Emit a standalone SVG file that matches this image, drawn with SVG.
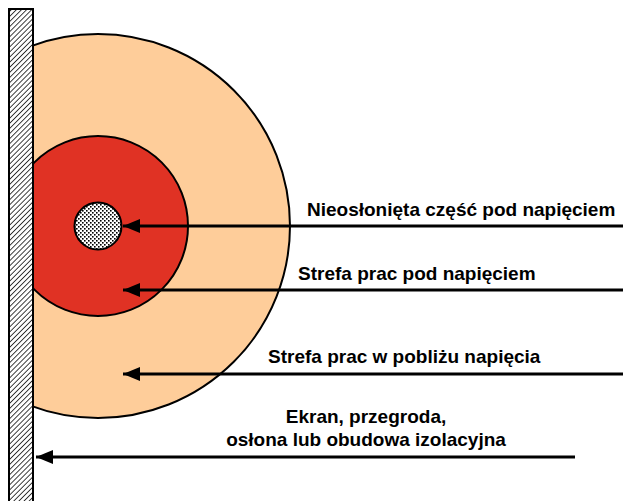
<svg xmlns="http://www.w3.org/2000/svg" width="623" height="501" viewBox="0 0 623 501">
<style>
text{font-family:"Liberation Sans",Arial,sans-serif;font-weight:bold;font-size:19px;fill:#000}
.ln{stroke:#000;stroke-width:3;fill:none}
.zone{stroke:#000;stroke-width:2}
</style>
<defs>
<clipPath id="rightOfWall"><rect x="30" y="0" width="600" height="501"/></clipPath>
<pattern id="hatch" patternUnits="userSpaceOnUse" width="3.6" height="3.6" patternTransform="rotate(45)">
<rect width="3.6" height="3.6" fill="#fff"/>
<line x1="0" y1="0" x2="0" y2="3.6" stroke="#000" stroke-width="1.5"/>
</pattern>
<pattern id="dots" patternUnits="userSpaceOnUse" width="4" height="4">
<rect width="4" height="4" fill="#fff"/>
<rect x="0" y="0" width="1.6" height="1.6" fill="#000"/>
<rect x="2" y="2" width="1.6" height="1.6" fill="#000"/>
</pattern>
<marker id="ah" markerUnits="userSpaceOnUse" markerWidth="18" markerHeight="14" refX="17" refY="7" orient="auto">
<path d="M0,0 L17,7 L0,14 Z" fill="#000"/>
</marker>
</defs>
<g clip-path="url(#rightOfWall)">
<g id="zone-near">
<circle class="zone" cx="98" cy="226" r="192" fill="#FECD9A"/>
</g>
<g id="zone-live">
<circle class="zone" cx="98" cy="226" r="90" fill="#E03224"/>
</g>
</g>
<g id="live-part">
<circle class="zone" cx="98" cy="226" r="23.5" fill="url(#dots)"/>
</g>
<g id="wall">
<rect x="9" y="9" width="24" height="500" fill="url(#hatch)" stroke="#000" stroke-width="2"/>
</g>
<g id="connectors">
<line class="ln" x1="623" y1="226" x2="123" y2="226" marker-end="url(#ah)"/>
<line class="ln" x1="623" y1="290" x2="123" y2="290" marker-end="url(#ah)"/>
<line class="ln" x1="623" y1="374" x2="123" y2="374" marker-end="url(#ah)"/>
<line class="ln" x1="575" y1="457" x2="36" y2="457" marker-end="url(#ah)"/>
</g>
<g id="labels">
<text x="307" y="216">Nieosłonięta część pod napięciem</text>
<text x="298" y="280">Strefa prac pod napięciem</text>
<text x="268" y="363">Strefa prac w pobliżu napięcia</text>
<text x="366" y="423" text-anchor="middle">Ekran, przegroda,</text>
<text x="366" y="446" text-anchor="middle">osłona lub obudowa izolacyjna</text>
</g>
</svg>
